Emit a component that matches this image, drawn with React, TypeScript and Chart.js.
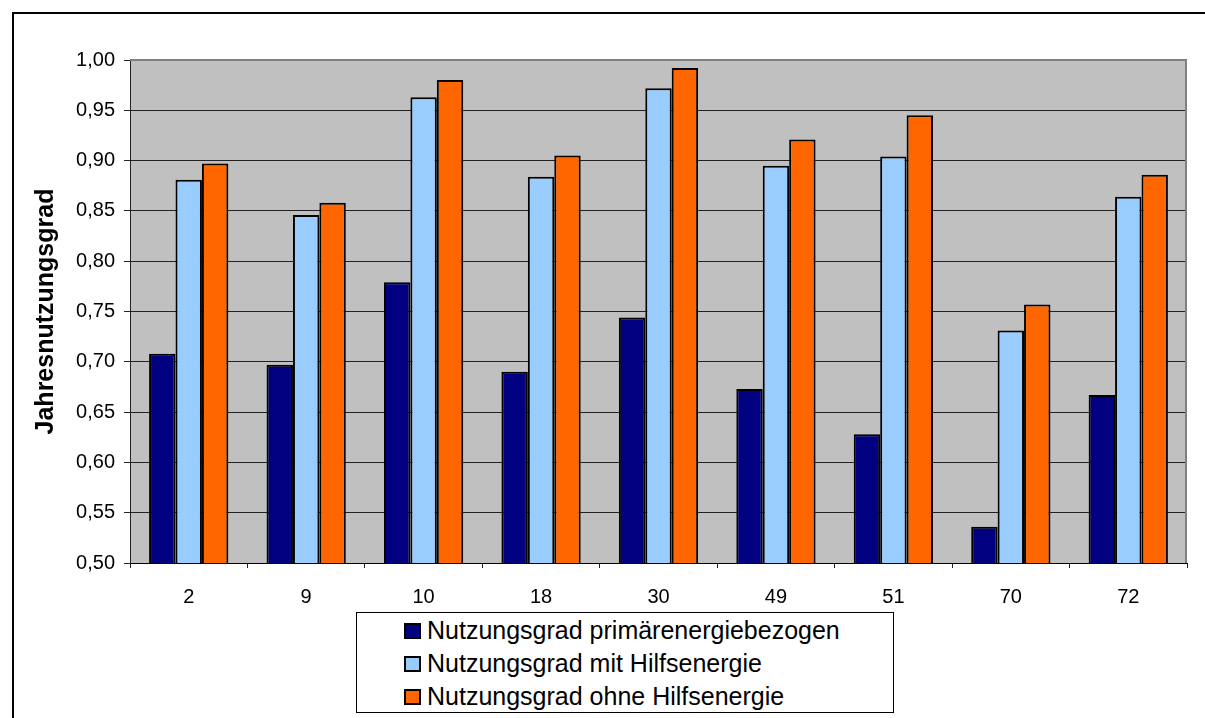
import React, { useEffect, useRef } from "react";
import { Chart, registerables } from "chart.js";

Chart.register(...registerables);

const categories = ["2", "9", "10", "18", "30", "49", "51", "70", "72"];
const primaerValues = [0.708, 0.697, 0.779, 0.69, 0.744, 0.673, 0.628, 0.536, 0.667];
const mitHilfsValues = [0.881, 0.846, 0.963, 0.884, 0.972, 0.895, 0.904, 0.731, 0.864];
const ohneHilfsValues = [0.897, 0.858, 0.98, 0.905, 0.992, 0.921, 0.945, 0.757, 0.886];
const seriesNames = [
  "Nutzungsgrad primärenergiebezogen",
  "Nutzungsgrad mit Hilfsenergie",
  "Nutzungsgrad ohne Hilfsenergie",
];
const seriesColors = ["#000080", "#99CCFF", "#FF6600"];
const yTitle = "Jahresnutzungsgrad";
const yMin = 0.5;
const yMax = 1.0;
const yStep = 0.05;

const FONT = "'Liberation Sans', Arial, sans-serif";

const plotBg = {
  id: "plotBg",
  beforeDraw(chart: any) {
    const { ctx, chartArea } = chart;
    ctx.save();
    ctx.fillStyle = "#C0C0C0";
    ctx.fillRect(chartArea.left, chartArea.top, chartArea.right - chartArea.left, chartArea.bottom - chartArea.top);
    ctx.restore();
  },
  beforeDatasetsDraw(chart: any) {
    const { ctx, chartArea } = chart;
    ctx.save();
    ctx.strokeStyle = "#808080";
    ctx.lineWidth = 2;
    ctx.beginPath();
    ctx.moveTo(chartArea.left, chartArea.top);
    ctx.lineTo(chartArea.right - 1, chartArea.top);
    ctx.lineTo(chartArea.right - 1, chartArea.bottom);
    ctx.stroke();
    ctx.restore();
  },
};

export default function App() {
  const canvasRef = useRef<HTMLCanvasElement | null>(null);

  useEffect(() => {
    if (!canvasRef.current) return;
    const values = [primaerValues, mitHilfsValues, ohneHilfsValues];
    const chart = new Chart(canvasRef.current, {
      type: "bar",
      data: {
        labels: categories,
        datasets: values.map((v, i) => ({
          label: seriesNames[i],
          data: v,
          backgroundColor: seriesColors[i],
          borderColor: "#000000",
          borderWidth: 2,
          categoryPercentage: 0.675,
          barPercentage: 1.0,
        })),
      },
      options: {
        responsive: false,
        animation: false,
        devicePixelRatio: 1,
        layout: { padding: { left: 0, top: 60, right: 18, bottom: 115 } },
        plugins: {
          legend: { display: false },
          tooltip: { enabled: false },
          title: { display: false },
        },
        scales: {
          x: {
            offset: true,
            grid: {
              display: true,
              offset: true,
              drawOnChartArea: false,
              drawTicks: true,
              tickLength: 5,
              color: "#222",
            },
            border: { display: true, color: "#000", width: 1 },
            ticks: {
              color: "#000",
              font: { family: FONT, size: 20 },
              padding: 17,
              maxRotation: 0,
            },
            afterFit(scale: any) {
              scale.height = 40;
            },
          },
          y: {
            min: yMin,
            max: yMax,
            grid: {
              color: "#222",
              lineWidth: 1,
              drawTicks: true,
              tickLength: 6,
            },
            border: { display: true, color: "#222", width: 1 },
            ticks: {
              stepSize: yStep,
              color: "#000",
              font: { family: FONT, size: 20 },
              padding: 9,
              callback: (val: any) => Number(val).toFixed(2).replace(".", ","),
            },
            title: {
              display: true,
              text: yTitle,
              color: "#000",
              font: { family: FONT, size: 25, weight: "bold" },
              padding: { top: 31, bottom: 0 },
            },
            afterFit(scale: any) {
              scale.width = 130;
            },
          },
        },
      },
      plugins: [plotBg],
    });
    return () => chart.destroy();
  }, []);

  return (
    <div
      style={{
        position: "absolute",
        left: 0,
        top: 0,
        width: 1205,
        height: 718,
        overflow: "hidden",
        background: "#fff",
        fontFamily: FONT,
      }}
    >
      <div style={{ position: "absolute", left: 12, top: 12, width: 1193, height: 2, background: "#000" }} />
      <div style={{ position: "absolute", left: 12, top: 12, width: 2, height: 706, background: "#000" }} />
      <canvas
        ref={canvasRef}
        width={1205}
        height={718}
        style={{ position: "absolute", left: 0, top: 0, width: 1205, height: 718 }}
      />
      <div
        style={{
          position: "absolute",
          left: 356,
          top: 612,
          width: 536,
          height: 99,
          border: "1px solid #000",
          background: "#fff",
          boxSizing: "content-box",
        }}
      >
        {seriesNames.map((name, i) => (
          <div
            key={name}
            style={{
              position: "absolute",
              left: 47,
              top: 1 + i * 33,
              height: 33,
              display: "flex",
              alignItems: "center",
              whiteSpace: "nowrap",
            }}
          >
            <div
              style={{
                width: 13,
                height: 12,
                background: seriesColors[i],
                border: "2px solid #000",
                marginRight: 6,
              }}
            />
            <span style={{ fontSize: 25, color: "#000", lineHeight: "33px" }}>{name}</span>
          </div>
        ))}
      </div>
    </div>
  );
}
